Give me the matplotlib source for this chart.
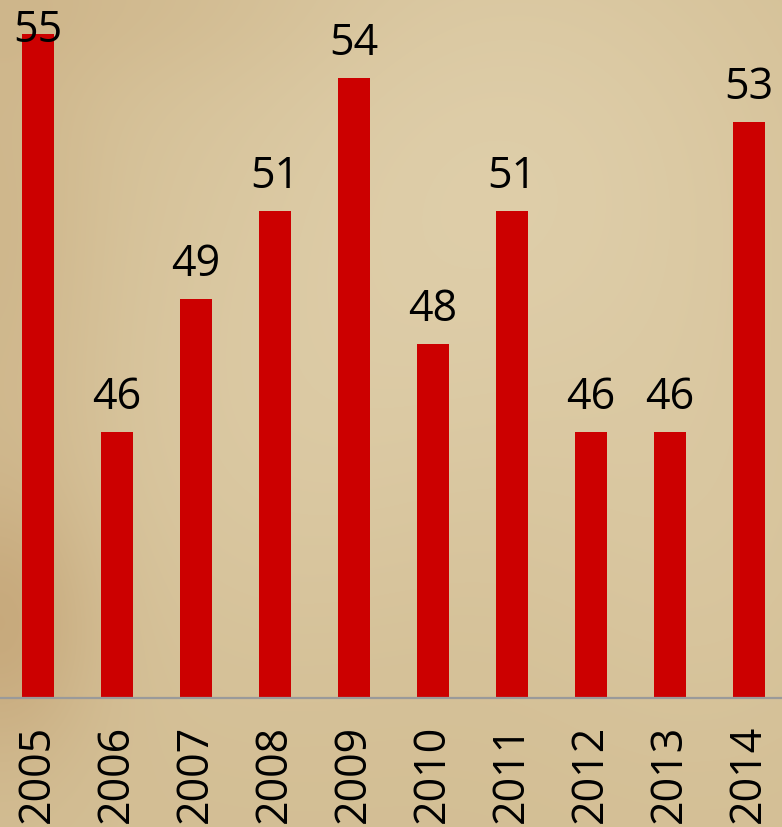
import numpy as np
import matplotlib
matplotlib.use("Agg")
import matplotlib.pyplot as plt

years = ["2005", "2006", "2007", "2008", "2009", "2010", "2011", "2012", "2013", "2014"]
values = [55, 46, 49, 51, 54, 48, 51, 46, 46, 53]

W, H, DPI = 782, 827, 100
fig = plt.figure(figsize=(W / DPI, H / DPI), dpi=DPI)

# parchment background
bg = fig.add_axes([0, 0, 1, 1])
yy, xx = np.mgrid[0:H, 0:W]
xn = xx / W
yn = yy / H
base = np.array([211, 190, 148], dtype=float)
light = np.array([224, 208, 172], dtype=float)
dark = np.array([196, 164, 118], dtype=float)

def blob(cx, cy, sx, sy):
    return np.exp(-(((xn - cx) / sx) ** 2 + ((yn - cy) / sy) ** 2))

wl = 0.8 * blob(0.65, 0.2, 0.4, 0.35) + 0.4 * blob(0.35, 0.55, 0.3, 0.3) + 0.35 * blob(0.9, 0.65, 0.25, 0.3)
wl = np.clip(wl, 0, 1)
wd = 0.7 * blob(0.0, 0.76, 0.12, 0.16) + 0.3 * blob(0.0, 0.3, 0.12, 0.4) + 0.2 * blob(0.15, 0.0, 0.25, 0.1)
wd = np.clip(wd, 0, 1)
img = base[None, None, :] * (1 - wl[..., None]) + light[None, None, :] * wl[..., None]
img = img * (1 - wd[..., None]) + dark[None, None, :] * wd[..., None]
bg.imshow(img.astype(np.uint8), aspect="auto", extent=[0, 1, 0, 1], zorder=0)
bg.set_axis_off()

# chart axes
base_px = 698
ax = fig.add_axes([0, 1 - base_px / H, 1, base_px / H])
ax.patch.set_alpha(0)

px_per_unit = 44.29
ymin = 40
ymax = ymin + base_px / px_per_unit
spacing = 79.0
c0 = 38.0
xlo = (0 - c0) / spacing
xhi = (W - c0) / spacing

x = np.arange(len(years))
ax.bar(x, np.array(values) - ymin, bottom=ymin, width=0.405, color="#CC0000", zorder=2)
ax.set_xlim(xlo, xhi)
ax.set_ylim(ymin, ymax)

font = "Open Sans"
fs = 31
off = 23 / px_per_unit
cap = ymax - (42 / px_per_unit)
for xi, v in zip(x, values):
    ax.text(xi, min(v + off, cap), str(v), ha="center", va="baseline",
            fontsize=fs, family=font, color="black", zorder=3)

ax.set_xticks(x)
ax.set_xticklabels(years, rotation=90, fontsize=fs, family=font, color="black")
ax.tick_params(axis="x", length=0, pad=27 * 72 / DPI)
ax.set_yticks([])
for s in ["top", "left", "right"]:
    ax.spines[s].set_visible(False)
ax.spines["bottom"].set_color("#9a9a9a")
ax.spines["bottom"].set_linewidth(1.6)

fig.savefig("out.png", dpi=DPI)
